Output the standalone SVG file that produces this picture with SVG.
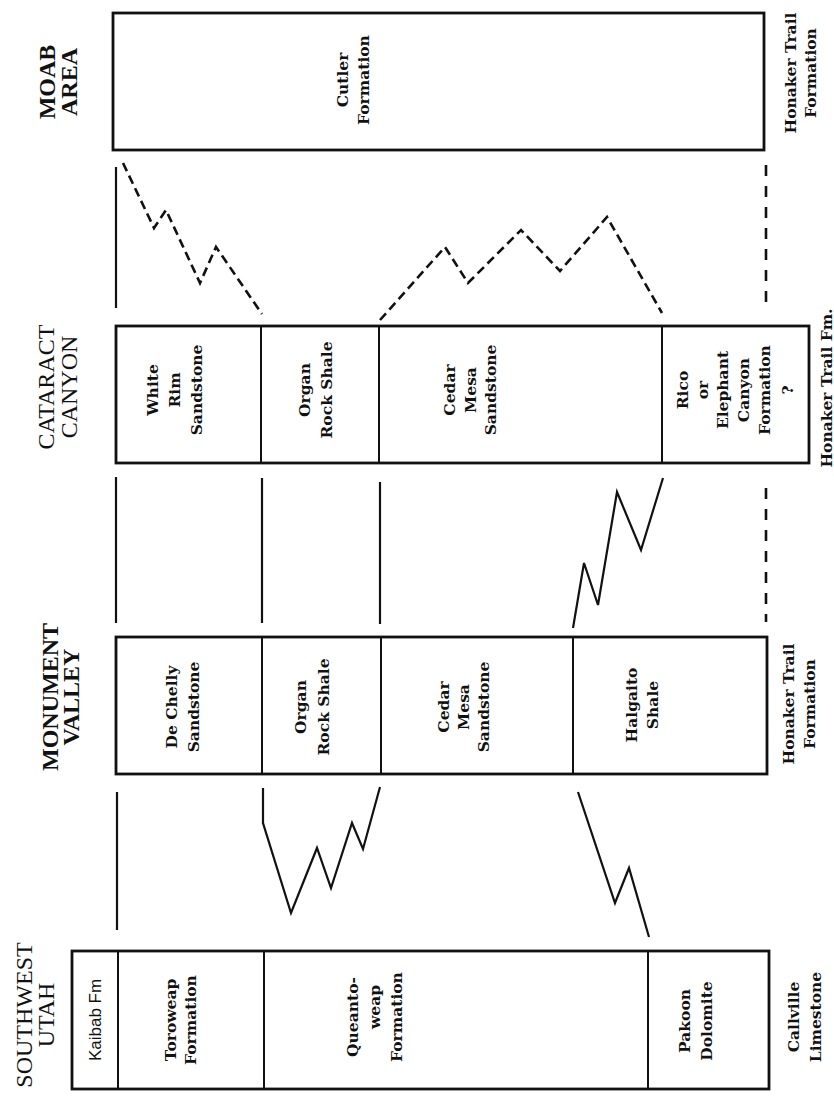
<svg xmlns="http://www.w3.org/2000/svg" width="834" height="1099" viewBox="0 0 834 1099">
<style>
.bg{fill:#fff}
.cell{fill:#fff;stroke:#111;stroke-width:2}
.outer{fill:none;stroke:#111;stroke-width:2.8}
.hdr{font-family:"Liberation Serif","Times New Roman",serif;font-size:24px;fill:#111;text-anchor:middle;dominant-baseline:central}
.hdrb{font-weight:bold}
.lbl{font-family:"DejaVu Serif","Liberation Serif",serif;font-size:15.5px;font-weight:bold;fill:#111;text-anchor:middle;dominant-baseline:central}
.sans{font-family:"Liberation Sans",Arial,sans-serif;font-size:17px;fill:#111;text-anchor:middle;dominant-baseline:central}
.solid{fill:none;stroke:#111;stroke-width:2.2;stroke-linejoin:miter}
.dash{fill:none;stroke:#111;stroke-width:2.6;stroke-dasharray:9 5}
.vdash{fill:none;stroke:#111;stroke-width:2.6;stroke-dasharray:11 10}
</style>
<rect class="bg" x="0" y="0" width="834" height="1099"/>

<!-- Column headers -->
<g id="hdr-moab"><text class="hdr hdrb" transform="translate(0,82) rotate(-90)"><tspan x="0" y="47">MOAB</tspan><tspan x="0" y="69">AREA</tspan></text></g>
<g id="hdr-cataract"><text class="hdr" transform="translate(0,387) rotate(-90)"><tspan x="0" y="46">CATARACT</tspan><tspan x="0" y="69">CANYON</tspan></text></g>
<g id="hdr-monument"><text class="hdr hdrb" transform="translate(0,697) rotate(-90)"><tspan x="0" y="50">MONUMENT</tspan><tspan x="0" y="71">VALLEY</tspan></text></g>
<g id="hdr-swutah"><text class="hdr" transform="translate(0,1015) rotate(-90)"><tspan x="0" y="24">SOUTHWEST</tspan><tspan x="0" y="46">UTAH</tspan></text></g>

<!-- Moab area -->
<g id="moab-cutler"><rect class="cell" x="113" y="13" width="651" height="137"/>
<text class="lbl" transform="translate(0,80) rotate(-90)"><tspan x="0" y="342">Cutler</tspan><tspan x="0" y="363">Formation</tspan></text></g>
<g id="moab-honaker"><text class="lbl" transform="translate(0,73) rotate(-90)"><tspan x="0" y="790">Honaker Trail</tspan><tspan x="0" y="810">Formation</tspan></text></g>

<!-- Cataract Canyon -->
<g id="cc-whiterim"><rect class="cell" x="116" y="326" width="145" height="137"/>
<text class="lbl" transform="translate(0,390) rotate(-90)"><tspan x="0" y="152">White</tspan><tspan x="0" y="174">Rim</tspan><tspan x="0" y="196">Sandstone</tspan></text></g>
<g id="cc-organrock"><rect class="cell" x="261" y="326" width="118" height="137"/>
<text class="lbl" transform="translate(0,390) rotate(-90)"><tspan x="0" y="304">Organ</tspan><tspan x="0" y="326">Rock Shale</tspan></text></g>
<g id="cc-cedarmesa"><rect class="cell" x="379" y="326" width="283" height="137"/>
<text class="lbl" transform="translate(0,390) rotate(-90)"><tspan x="0" y="449">Cedar</tspan><tspan x="0" y="470">Mesa</tspan><tspan x="0" y="490">Sandstone</tspan></text></g>
<g id="cc-rico"><rect class="cell" x="662" y="326" width="147" height="137"/>
<text class="lbl" transform="translate(0,390) rotate(-90)"><tspan x="0" y="682">Rico</tspan><tspan x="0" y="702">or</tspan><tspan x="0" y="722">Elephant</tspan><tspan x="0" y="743">Canyon</tspan><tspan x="0" y="764">Formation</tspan><tspan x="0" y="787">?</tspan></text></g>
<rect class="outer" x="116" y="326" width="693" height="137"/>
<g id="cc-honaker"><text class="lbl" transform="translate(0,388) rotate(-90)"><tspan x="0" y="826">Honaker Trail Fm.</tspan></text></g>

<!-- Monument Valley -->
<g id="mv-dechelly"><rect class="cell" x="116" y="637" width="146" height="137"/>
<text class="lbl" transform="translate(0,707) rotate(-90)"><tspan x="0" y="171">De Chelly</tspan><tspan x="0" y="193">Sandstone</tspan></text></g>
<g id="mv-organrock"><rect class="cell" x="262" y="637" width="119" height="137"/>
<text class="lbl" transform="translate(0,707) rotate(-90)"><tspan x="0" y="300">Organ</tspan><tspan x="0" y="323">Rock Shale</tspan></text></g>
<g id="mv-cedarmesa"><rect class="cell" x="381" y="637" width="192" height="137"/>
<text class="lbl" transform="translate(0,707) rotate(-90)"><tspan x="0" y="443">Cedar</tspan><tspan x="0" y="463">Mesa</tspan><tspan x="0" y="483">Sandstone</tspan></text></g>
<g id="mv-halgaito"><rect class="cell" x="573" y="637" width="194" height="137"/>
<text class="lbl" transform="translate(0,705) rotate(-90)"><tspan x="0" y="631">Halgaito</tspan><tspan x="0" y="652">Shale</tspan></text></g>
<rect class="outer" x="116" y="637" width="651" height="137"/>
<g id="mv-honaker"><text class="lbl" transform="translate(0,704) rotate(-90)"><tspan x="0" y="788">Honaker Trail</tspan><tspan x="0" y="809">Formation</tspan></text></g>

<!-- Southwest Utah -->
<g id="sw-kaibab"><rect class="cell" x="72" y="951" width="46" height="138"/>
<text class="sans" transform="translate(0,1020) rotate(-90)"><tspan x="0" y="95">Kaibab Fm</tspan></text></g>
<g id="sw-toroweap"><rect class="cell" x="118" y="951" width="146" height="138"/>
<text class="lbl" transform="translate(0,1020) rotate(-90)"><tspan x="0" y="170">Toroweap</tspan><tspan x="0" y="190">Formation</tspan></text></g>
<g id="sw-queantoweap"><rect class="cell" x="264" y="951" width="384" height="138"/>
<text class="lbl" transform="translate(0,1017) rotate(-90)"><tspan x="0" y="352">Queanto-</tspan><tspan x="10" y="374">weap</tspan><tspan x="0" y="396">Formation</tspan></text></g>
<g id="sw-pakoon"><rect class="cell" x="648" y="951" width="121" height="138"/>
<text class="lbl" transform="translate(0,1021) rotate(-90)"><tspan x="0" y="684">Pakoon</tspan><tspan x="0" y="706">Dolomite</tspan></text></g>
<rect class="outer" x="72" y="951" width="697" height="138"/>
<g id="sw-callville"><text class="lbl" transform="translate(0,1017) rotate(-90)"><tspan x="0" y="793">Callville</tspan><tspan x="0" y="815">Limestone</tspan></text></g>

<rect class="outer" x="113" y="13" width="651" height="137"/>

<!-- Connectors -->
<g id="connectors">
<line class="solid" x1="116" y1="167" x2="116" y2="308"/>
<polyline class="dash" points="123,163 154,228 166,210 200,283 216,247 262,314"/>
<polyline class="dash" points="380,320 445,247 468,283 521,230 560,271 607,217 662,313"/>
<line class="vdash" x1="766" y1="165" x2="766" y2="310"/>

<line class="solid" x1="116" y1="477" x2="116" y2="623"/>
<line class="solid" x1="262" y1="478" x2="262" y2="623"/>
<line class="solid" x1="380" y1="482" x2="380" y2="624"/>
<polyline class="solid" points="663,478 641,550 617,492 598,605 584,563 573,628"/>
<line class="vdash" x1="766" y1="488" x2="766" y2="622"/>

<line class="solid" x1="117" y1="792" x2="117" y2="930"/>
<polyline class="solid" points="263,788 263,823 291,913 317,848 331,888 352,823 363,849 380,787"/>
<polyline class="solid" points="578,792 615,903 629,868 649,937"/>
</g>
</svg>
